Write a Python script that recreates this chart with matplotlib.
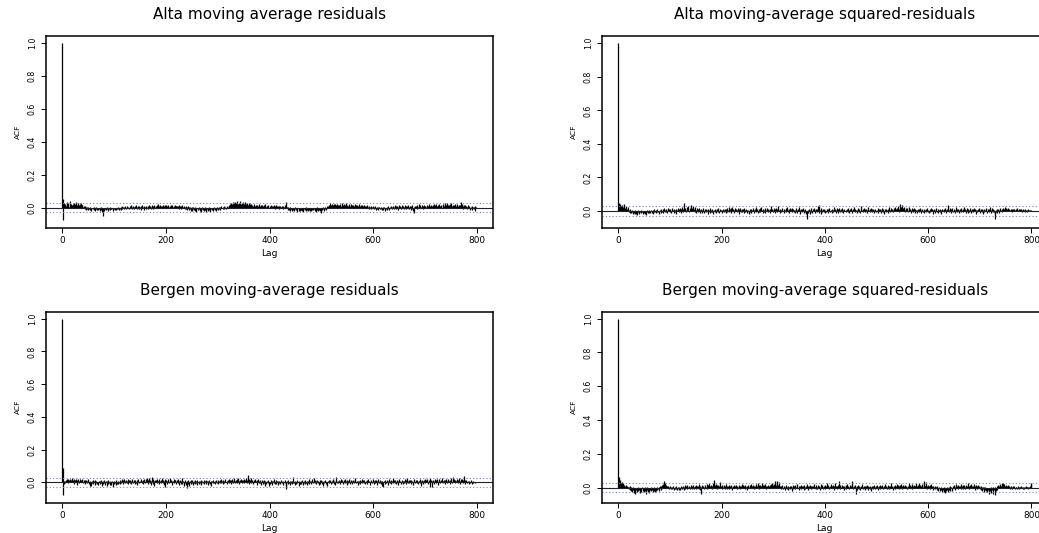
import numpy as np
import matplotlib
matplotlib.use("Agg")
import matplotlib.pyplot as plt

# ---------------- data (ACF values x 1000, lag 0..800) ----------------
titles = ["Alta moving average residuals",
          "Alta moving-average squared-residuals",
          "Bergen moving-average residuals",
          "Bergen moving-average squared-residuals"]

x_ticks = [0, 200, 400, 600, 800]
y_ticks = [0.0, 0.2, 0.4, 0.6, 0.8, 1.0]
y_tick_labels = ["0.0", "0.2", "0.4", "0.6", "0.8", "1.0"]
conf_limit = 0.028

alta_res = [
 1000, 55, -76, 18, 30, 8, 25, 12, -5, 35, 20, 10, 28, 5, 15, 40, 12, 22, -3, 18,
 25, 8, 30, 14, -2, 20, 10, 32, 6, 18, 12, 26, 4, 15, 22, 9, 28, 3, 14, 19,
 5, 12, -4, 10, -8, 2, -12, 6, -6, -15, 3, -10, -2, -14, 4, -8, -18, -5, 0, -11,
 -3, -16, 2, -9, -20, -6, 5, -12, -4, -17, -1, -10, -22, -7, 3, -14, -8, -25, -50, -12,
 -6, -18, 0, -10, -3, -15, -8, 2, -13, -20, -5, -9, 1, -16, -7, -11, -2, -14, -19, -4,
 -9, 0, -13, -6, -17, -3, -10, 4, -8, -15, -1, -11, -5, 2, -12, 8, -7, -2, 6, -9,
 3, -4, 10, -6, 1, 12, -3, 5, -8, 0, 9, -5, 14, -2, 6, -10, 3, 11, -7, 2,
 8, -4, 15, -1, 5, -9, 10, 0, -6, 12, 3, -12, 7, -2, 16, -5, 4, -14, 9, 1,
 -3, 11, -8, 6, 0, 13, -6, 2, 17, -4, 8, -10, 5, 14, -1, 10, -7, 3, 18, 6,
 12, -2, 15, 4, 9, 20, -3, 11, 6, 16, 1, 13, -4, 8, 19, 3, 10, -2, 14, 7,
 17, 2, 12, -3, 9, 15, 5, 11, -5, 14, 8, 1, 16, 6, -2, 12, 4, 18, -1, 10,
 7, 13, -4, 9, 3, 15, -6, 11, 2, 8, -8, 14, 0, 6, -3, 10, -10, 5, 12, -7,
 4, -12, 8, -2, -15, 3, -9, 6, -18, -4, 1, -22, -7, 5, -13, -1, -20, 2, -10, -25,
 -5, 0, -16, -8, 3, -19, -11, -2, -24, -6, 1, -14, -9, -21, -3, 4, -17, -12, -28, -7,
 -1, -20, -10, 2, -15, -5, -26, -8, 0, -13, -18, -4, -11, 3, -16, -9, -2, -22, -6, 1,
 -12, -3, 5, -8, 2, -14, -1, 7, -5, 0, -10, 4, -6, 9, -2, 3, -7, 1, 11, -4,
 6, 18, 3, 25, 10, 30, 8, 22, 15, 35, 12, 28, 5, 20, 32, 14, 26, 9, 38, 17,
 24, 11, 30, 16, 42, 20, 13, 27, 8, 33, 19, 25, 10, 36, 15, 22, 6, 29, 12, 18,
 26, 4, 20, 14, 9, 24, 2, 17, 11, 6, 21, 0, 13, 8, 18, 3, 15, -2, 10, 22,
 5, 12, -3, 16, 7, 1, 19, 9, -4, 14, 3, 11, 25, 6, -1, 13, 8, 2, 17, -5,
 10, 4, 15, 0, 8, -3, 12, 6, 18, 1, 9, -6, 14, 3, 7, -2, 11, 5, -8, 13,
 2, 9, -4, 6, 12, 0, 8, -7, 4, 16, -2, 10, 33, -5, 6, -12, 1, -9, -15, 3,
 -18, -6, -11, 0, -20, -8, -14, -3, -22, -10, 2, -16, -7, -24, -12, -4, -19, -1, -13, -21,
 -9, -15, 0, -18, -6, -25, -11, -3, -17, -8, -20, 1, -14, -10, -23, -5, -16, -2, -12, -19,
 -7, -22, -13, 0, -17, -9, -4, -20, -11, -26, -6, -15, 2, -18, -10, -3, -14, -21, -8, -30,
 -12, -5, -16, 3, -9, -19, -2, -11, 5, -14, -6, 8, -4, 12, 0, 18, 6, 27, 10, 15,
 22, 4, 17, 9, 25, -2, 13, 20, 6, 16, 11, 24, 3, 19, 8, 14, -3, 21, 10, 26,
 5, 17, 12, 7, 22, 0, 15, 9, 28, 4, 18, 11, -5, 14, 20, 6, 10, 24, 2, 16,
 8, 13, 19, 1, 11, 23, 6, 15, -4, 17, 9, 3, 12, 20, 7, -2, 14, 5, 10, 18,
 4, 11, -1, 15, 7, 2, 13, -3, 9, 16, 0, 6, -6, 10, 3, -9, 8, 1, -4, 12,
 -2, 5, -10, 7, -5, 0, -13, 4, -8, 2, -15, -3, 6, -11, -1, -7, 3, -16, -4, 1,
 -12, 5, -6, -18, 0, -9, 3, -14, -2, 8, -7, -12, 1, -5, 10, -3, -10, 4, -1, 12,
 -6, 2, 15, -4, 7, -9, 11, 0, -13, 6, 14, -2, 9, -7, 3, 17, -5, 1, 12, -11,
 5, -3, 16, 8, -8, 2, 13, -4, 19, 6, -10, 10, 0, -15, 7, -6, 14, -20, -30, 3,
 8, -5, 12, 2, -9, 16, 5, -2, 20, 9, -4, 14, 6, 0, 18, 3, 11, -7, 15, 8,
 1, 13, 6, -3, 17, 10, 2, 22, 7, -5, 12, 4, 19, -1, 9, 15, 3, 24, 8, 0,
 14, 6, 20, 11, -2, 16, 5, 12, 25, 9, 3, 18, 7, -4, 13, 21, 10, 2, 30, 15,
 6, 19, 11, 26, 4, 17, 9, 14, 1, 22, 8, 28, 13, 5, 18, 10, -3, 16, 24, 7,
 12, 3, 20, 9, -2, 15, 6, 18, 11, 33, 4, 14, 25, 8, -6, 16, 2, 10, 19, -4,
 12, 5, -8, 14, 3, -2, 10, -12, 6, 0, -15, 8, -5, 4, -10, 2, -18, 7, -3, 1,
 0]

alta_sq = [
 1000, 45, 38, 20, 42, 15, 30, 8, 35, 12, 25, 5, 40, 18, 10, 28, 3, 14, 22, -2,
 8, -6, 12, -10, 2, -14, 5, -8, -18, 0, -12, -4, -20, 3, -9, -15, -2, -22, -6, 4,
 -11, -17, 1, -8, -13, 6, -5, -19, -1, -10, -3, -16, 2, -7, -21, -4, 5, -12, -2, -9,
 3, -6, -14, 7, -3, -10, 1, -18, 4, -5, 9, -8, -1, -13, 6, -4, 11, -7, 2, -15,
 8, -2, -9, 13, 0, -6, 10, -11, 3, 15, -4, 7, -8, 12, 1, -14, 5, 16, -3, 9,
 -6, 11, 2, -12, 18, -1, 6, -9, 14, 4, -5, 10, -16, 8, 0, 20, -3, 13, -7, 5,
 17, -10, 9, 2, 22, -4, 12, 6, 45, -2, 15, 8, -6, 25, 11, 3, 30, -8, 18, 7,
 35, 12, -3, 20, 9, 28, 1, 14, -5, 22, 6, -11, 17, 3, 10, -7, 15, -2, 8, -13,
 4, 12, -9, 6, -1, 18, -14, 2, 9, -6, 14, -3, 7, -18, 11, 0, 5, -10, 16, -4,
 3, -8, 10, 1, -15, 6, -2, 13, -7, 4, -12, 9, 0, 15, -5, 2, -9, 12, -3, 7,
 -14, 5, 11, -1, 8, -7, 14, 3, -11, 9, -4, 18, 0, 6, 22, -6, 12, 2, -9, 16,
 4, 25, -3, 10, 7, -12, 19, 1, 14, -6, 8, 20, -2, 11, -15, 5, 17, -8, 3, 13,
 -4, 9, 0, -10, 15, 6, -7, 2, 12, -13, 4, -2, 8, -16, 1, 10, -5, 14, -9, 3,
 18, -3, 7, -11, 11, 2, 25, -6, 5, 13, -14, 0, 9, -4, 16, -8, 3, 22, -1, 6,
 -10, 12, 4, -5, 15, -12, 8, 1, 19, -7, 10, 3, -3, 14, -9, 6, 28, -2, 11, 5,
 -8, 16, 0, 9, -13, 4, 20, -5, 12, 2, 30, -1, 7, -10, 14, 3, -6, 18, 8, -3,
 11, -14, 6, 1, 15, -8, 9, 24, -4, 3, 12, -11, 17, 5, -2, 10, -7, 20, 2, 13,
 -5, 8, -12, 4, 16, 0, 7, -9, 11, 22, -3, 6, -15, 9, 1, 14, -6, 3, 18, -10,
 5, -4, 12, -20, 2, -50, -8, 6, -14, 10, -2, -18, 4, 15, -7, 1, -12, 9, -3, 20,
 6, -9, 14, 0, 11, -5, 28, 3, 38, -11, 7, -2, 16, -16, 5, -8, 12, 1, -4, 9,
 -13, 6, 2, -7, 14, -1, 10, -10, 4, 18, -5, 8, 0, -12, 13, 3, -6, 22, 7, -3,
 11, -9, 5, 16, -2, 9, -14, 2, 19, 6, -7, 12, 0, -4, 15, 8, -11, 4, 10, -1,
 7, -8, 13, 2, -5, 20, 4, -12, 9, 1, 16, -3, 6, -9, 11, 0, 24, 5, -6, 14,
 -2, 8, -13, 3, 18, 7, -4, 12, 1, -10, 30, 6, -1, 10, -7, 15, 2, 9, -5, 4,
 13, -11, 7, 0, 21, 5, -3, 11, -8, 17, 2, -6, 9, 14, -2, 6, -14, 3, 12, -5,
 8, 1, 16, -9, 4, 10, -3, 13, -12, 6, 19, 0, -7, 9, 2, -16, 11, 5, -4, 14,
 -1, 7, -10, 12, 3, 22, -5, 8, 15, -2, 10, 4, -8, 18, 6, 1, 25, -3, 12, 9,
 20, 5, 30, 11, -4, 40, 14, 7, 22, 3, 35, 10, 17, 2, 26, 8, -5, 19, 12, 4,
 15, -7, 9, 23, 1, 13, 6, -11, 18, 3, 10, -4, 16, 7, -9, 12, 0, 5, -14, 8,
 2, 14, -6, 9, -2, 17, 4, -10, 11, 1, -5, 13, -13, 6, 0, 10, -8, 3, 15, -4,
 7, -12, 2, 11, -7, 5, 16, -3, 9, -15, 4, 0, 12, -9, 6, -2, 18, 1, -6, 10,
 -11, 3, 14, -4, 8, -16, 2, 11, -1, 6, -8, 13, 0, 20, 5, -10, 9, 3, 35, 12,
 -5, 7, 15, -2, 10, -9, 4, 18, -6, 1, 12, -13, 6, 22, 0, -7, 9, 14, -3, 5,
 -12, 11, 2, 16, -5, 8, -1, 13, -8, 4, 25, -3, 10, -14, 6, 17, 1, -9, 12, 3,
 -4, 20, 7, -11, 14, 0, 9, -6, 5, 18, -2, 11, -15, 4, 8, -7, 13, 2, -3, 16,
 -10, 6, 1, 12, -5, 9, -16, 3, 14, -8, 7, -2, 19, 0, -12, 10, 4, -6, 13, 22,
 -3, 8, -11, 15, 2, -7, 11, -4, 5, -20, -45, -8, 3, -14, 9, -2, 12, -9, 6, 1,
 16, 4, 10, -5, 20, 7, 13, 2, 24, 9, -3, 15, 6, 11, -1, 18, 5, 12, 0, 8,
 14, 3, 9, -4, 11, 6, 1, 13, 7, -2, 10, 4, 15, 0, 8, 12, -3, 6, 9, 2,
 11, -5, 7, 3, 13, -1, 6, 10, -4, 8, 2, 5, -6, 9, 1, 4, -2, 7, 0, 3,
 -1]

bergen_res = [
 1000, 88, -75, 5, -12, 10, -5, 15, 2, 18, 8, -4, 20, 12, 6, 22, 3, 16, 9, 24,
 5, 14, -8, 19, 11, 2, 17, 7, -15, 13, 21, 4, 10, -6, 18, 8, 15, 1, 20, 12,
 -3, 16, 6, 11, -10, 14, 3, 9, -5, 18, 7, -12, 4, 10, -20, 2, -25, 8, -4, 13,
 -8, 6, 1, -15, 11, -3, 9, -10, 4, -18, 7, 0, -13, 10, -6, 14, -2, -21, 5, -9,
 12, -4, 3, -16, 8, -1, -22, 6, -11, 11, -7, 2, -19, 9, -3, -14, 5, -26, 0, 7,
 -10, 3, -5, 12, -17, 1, -8, 10, -13, 4, -2, 15, -9, 6, -4, 18, 0, -11, 12, 3,
 20, -6, 9, 14, -3, 7, 17, -8, 11, 2, -5, 16, 6, -12, 10, 19, 1, -4, 13, 8,
 -9, 15, 4, -2, 12, -14, 7, 18, 0, -7, 10, 3, 21, -5, 9, 14, -11, 6, 17, 2,
 -3, 19, 8, 24, 5, -8, 16, 11, 26, -2, 13, -16, 9, 30, 4, -10, 20, 7, -25, 15,
 3, 12, 22, -4, 10, 6, -13, 17, 1, 9, -7, 14, 25, 5, -2, 11, -18, 8, 19, -26,
 4, 15, -9, 10, 2, 18, -5, 7, 23, -1, 12, 6, -14, 9, 3, 20, -6, 11, 16, 0,
 -10, 13, 5, 21, -3, 8, -17, 14, 2, -8, 10, 25, -12, 6, 0, -20, 12, -5, 4, -15,
 -35, 7, -9, 15, -2, -22, 9, 3, -13, 11, -6, 16, 1, -18, 8, -4, 12, -11, 5, -7,
 14, -16, 2, 10, -9, 6, -3, 13, -14, 4, 9, -6, 0, 11, -12, 7, -1, 15, -8, 3,
 10, -17, 5, -4, 12, -10, 1, 8, -25, 6, -2, 13, -7, 3, 9, -13, 0, 11, -5, 4,
 16, -9, 7, 2, -3, 12, 20, -6, 9, 1, -11, 14, 5, -4, 10, 18, -1, 6, -8, 13,
 3, 21, -5, 11, 7, 15, -10, 4, 19, 9, -2, 14, 23, 6, -7, 12, 2, 17, -4, 10,
 25, 5, -9, 13, 8, 20, -3, 16, 1, 11, 22, -6, 9, 15, 3, 28, -2, 12, 7, 42,
 18, -8, 14, 5, 24, -4, 10, 16, 2, -11, 13, 8, 20, -1, 6, -14, 11, 4, 17, -6,
 9, -3, 13, 1, -16, 7, 12, -9, 5, 15, -2, -20, 8, 3, -12, 10, 0, -7, 14, -24,
 4, -10, 11, -2, 6, -15, 9, 1, -5, 18, -8, 3, 12, -13, 7, -1, -19, 5, 10, -4,
 2, -11, 8, 14, -6, 0, 9, -16, 4, 11, -3, -22, -40, 6, 1, -9, 13, -5, 3, -14,
 8, -2, 10, -12, 5, -7, 35, -4, 0, -17, 7, 2, -10, 12, -6, 4, -20, 9, -1, -13,
 6, -8, 3, 11, -15, 1, -4, 8, -11, 14, 2, -6, 9, -18, 5, -2, 22, -9, 7, 0,
 -13, 10, 4, 18, -7, 2, 25, -3, 12, 6, -10, 15, 0, -5, 9, -16, 3, 11, -8, 13,
 1, -12, 7, 4, -20, 10, -2, 6, 14, -9, 3, -25, 8, 0, 12, -6, 5, 16, -11, 2,
 9, -4, 13, 20, -8, 6, 1, -15, 11, 34, 3, -7, 10, -2, 15, 5, -12, 8, 18, -1,
 12, 4, -9, 14, 7, 22, -5, 10, 2, -14, 16, 6, -3, 11, 20, 0, -8, 13, 5, 9,
 -11, 15, 3, 7, -6, 12, 25, -2, 9, 1, -16, 10, 5, -4, 14, -10, 8, 2, 19, -7,
 6, 11, -3, 16, 0, -13, 9, 4, 12, -8, 7, 20, -1, 10, -18, 5, 13, 2, -6, 22,
 3, -10, 8, 14, -4, 11, 0, -15, 9, 6, 17, -7, 2, 12, -3, 5, -12, 10, -20, -30,
 4, 8, -9, 15, 1, -5, 12, 6, -14, 10, 3, 19, -2, 7, -11, 13, 0, 9, 24, -6,
 5, 11, -3, 16, -10, 2, 8, 12, -17, 6, 20, -1, 9, 4, -8, 14, 1, -13, 10, 5,
 -4, 18, 7, -11, 13, 2, 25, -6, 9, 15, -2, 4, 11, -9, 16, 6, 0, -14, 10, 21,
 3, -7, 12, 8, -3, 14, 1, -12, 9, 5, 17, -5, 10, -20, 2, 13, 7, -8, 15, 4,
 22, -2, 11, 6, 18, -10, 3, 14, 8, 25, -26, 5, 12, -28, 9, 1, 16, 6, -9, 20,
 4, 13, -4, 10, 21, 2, -15, 8, 17, 6, -7, 12, 0, 24, 9, -3, 15, 5, -12, 11,
 19, 3, 8, -6, 14, 22, 1, 10, -9, 16, 7, 26, 4, -2, 12, 30, 9, 18, -5, 13,
 6, 21, 11, -4, 15, 3, 24, 8, -8, 17, 10, 2, 19, -3, 13, 36, 5, 11, -10, 7,
 14, 0, -6, 9, 3, -12, 8, -2, 5, 12, -8, 1, 6, -4, 3, -1, 2, -5, 4, 0,
 1]

bergen_sq = [
 1000, 65, 52, 40, 48, 30, 22, 35, 15, 25, 12, 8, 18, 5, 10, 14, 3, 9, 6, 2,
 4, -5, 7, -12, 1, -18, -6, -25, 3, -15, -30, -8, -20, -38, -2, -14, -28, -10, 2, -22,
 -16, -5, -32, 0, -12, -24, 4, -18, -8, -27, -14, 1, -20, -35, -6, -11, 3, -25, -17, -9,
 -30, 0, -13, -22, 5, -16, -8, -26, -3, -19, 2, -28, -12, -6, -21, 4, -15, -9, 6, -18,
 -4, 8, -11, 12, -2, 15, 5, 20, 10, 38, 25, 14, 8, 18, 3, 11, -4, 7, 1, -6,
 9, -3, 4, -10, 2, -7, 12, -1, -13, 5, -5, 8, -9, 0, -15, 3, -2, -11, 6, -6,
 -14, 1, 7, -8, 4, -3, 10, -12, 2, 14, -5, 8, 0, -9, 16, 3, -4, 11, -7, 6,
 13, -2, 9, -10, 5, 18, 1, -6, 12, 4, -8, 15, 7, -3, 10, 0, 20, -5, 8, -12,
 3, -40, 6, 14, -4, 11, 2, -9, 17, 5, 0, 22, -7, 9, 13, 1, 25, -3, 8, 16,
 4, 12, -5, 30, 10, 48, 6, 15, -2, 20, 7, -8, 14, 3, 18, -4, 9, 35, 1, 11,
 -6, 13, 5, -3, 16, 8, -10, 10, 2, 19, -5, 7, 12, 0, -8, 15, 4, 9, -2, 14,
 6, -11, 11, 3, 17, -4, 8, 1, 13, -7, 10, 5, -1, 16, 2, 9, -9, 12, 4, 20,
 -3, 7, 14, 0, 10, -6, 18, 5, 2, 11, -12, 8, 15, 3, -2, 13, 6, 22, -4, 9,
 1, 16, 7, -8, 12, 4, 19, -1, 10, 6, 25, 3, -5, 14, 8, 18, 0, 11, 30, 5,
 13, -3, 9, 16, 2, 21, 7, -6, 12, 4, 17, 10, -2, 15, 6, 24, 1, 11, 28, 8,
 14, 3, 20, 38, 9, 16, 5, 42, 12, 0, 18, 7, 33, 2, 11, -6, 8, 15, 4, -9,
 10, -3, 6, -12, 2, 13, -7, 5, -15, 9, 1, -4, 12, -10, 3, 7, -18, 6, 14, -5,
 2, 10, -8, 16, 4, -2, 11, 22, 0, 7, -13, 9, 3, 18, -6, 5, 12, -1, 8, -11,
 14, 2, -5, 10, 6, 19, -3, 8, -14, 4, 11, 0, 15, -8, 7, 2, 12, -4, 9, 24,
 1, 6, -10, 13, 3, -6, 16, 8, 0, 11, -12, 5, 20, -2, 9, 14, -7, 4, 12, 1,
 -5, 18, 7, 3, 26, -4, 10, 15, 2, -9, 12, 6, 21, -1, 8, 4, 14, -11, 9, 30,
 5, -3, 11, 7, -8, 16, 2, 10, 40, -6, 13, 4, -2, 9, 18, 0, 7, -14, 11, 3,
 15, -5, 8, 22, 1, 12, -9, 6, 17, 3, 10, -4, 14, 38, 2, -7, 9, 5, 13, -3,
 -35, 6, -12, 11, 1, 16, -6, 8, 4, -15, 10, 2, 19, -8, 5, 12, -2, 7, -11, 9,
 3, 14, -4, 10, -16, 6, 1, 12, -7, 4, -19, 8, 2, 11, -5, 6, 15, -9, 3, 10,
 -2, 13, 5, -12, 8, 1, 18, -6, 9, 3, -3, 14, 6, -10, 11, 0, 7, 22, -4, 10,
 4, -8, 15, 2, 9, -5, 12, 6, 26, -1, 8, 3, -13, 11, 5, 17, -7, 10, 1, 19,
 6, -3, 13, 8, -10, 15, 2, 24, 7, -5, 11, 4, 18, -2, 9, 14, 0, 6, 12, -8,
 3, 10, 28, 5, -4, 13, 8, 1, 20, -6, 11, 4, 16, -1, 9, 7, 25, 2, 12, -3,
 14, 6, 30, 9, 18, -2, 11, 5, 22, 13, 3, 15, 42, 8, 10, 35, 4, 12, -5, 7,
 16, 2, 9, -8, 13, 5, 20, 0, 8, -11, 12, 3, -4, 10, -9, 6, 1, -14, 7, -6,
 -18, 3, -10, -22, 5, -13, -28, 0, -16, -8, -25, 2, -12, -30, -6, -20, 4, -15, -9, -24,
 1, -11, 8, -17, -3, 6, -19, -7, 11, -2, 14, -12, 5, 20, -4, 9, 2, -9, 16, 7,
 -1, 12, 4, 24, -6, 10, 3, 15, -10, 8, 18, 1, -5, 13, 7, -2, 11, 28, 4, 9,
 -8, 14, 6, 19, 0, 12, -4, 10, 22, 3, -12, 8, 15, 1, -6, 11, 5, 17, -3, 9,
 -10, 4, -15, 7, 1, -20, 5, -8, -25, 2, -12, 6, -18, -3, -28, 0, -14, -35, -6, -22,
 -11, 2, -30, -7, -16, 4, -40, -9, -13, -45, 1, -20, -5, 8, -12, 6, 14, -3, 10, 18,
 22, 12, 25, 8, 16, 28, 5, 20, 11, 2, 15, 7, -4, 10, 3, 13, -2, 8, 5, -6,
 9, 1, 6, -8, 4, 11, -3, 7, 0, -10, 5, 2, -5, 8, -1, 3, -7, 6, 1, -4,
 7, -2, 4, -9, 2, 6, -5, 3, -1, 8, -3, 1, 5, -6, 2, 0, 4, -2, 10, 25,
 22]

series = [alta_res, alta_sq, bergen_res, bergen_sq]

# ---------------- layout (pixel boxes of the plot regions) ----------------
W, H = 1039, 533
fig = plt.figure(figsize=(W / 100, H / 100), dpi=100)
plt.rcParams['font.family'] = ['DejaVu Sans']

boxes = [(45.7, 36.0, 493.3, 227.7), (601.7, 36.0, 1048.0, 227.7),
         (45.7, 311.7, 493.3, 502.7), (601.7, 311.7, 1048.0, 502.7)]
ylims = [(-0.122, 1.044), (-0.0996, 1.0435), (-0.125, 1.043), (-0.089, 1.041)]
title_y = [15.0, 15.0, 290.0, 290.0]

for k in range(4):
    x0, y0, x1, y1 = boxes[k]
    ax = fig.add_axes([x0 / W, 1 - y1 / H, (x1 - x0) / W, (y1 - y0) / H])
    vals = np.asarray(series[k], dtype=float) / 1000.0
    lags = np.arange(len(vals))
    ax.vlines(lags, 0, vals, color='black', linewidth=0.9)
    ax.axhline(0, color='#222222', linewidth=0.8)
    for c in (conf_limit, -conf_limit):
        ax.axhline(c, color='#6a86d4', linewidth=0.8, linestyle=(0, (1, 2)))
    ax.set_xlim(-32, 832)
    ax.set_ylim(*ylims[k])
    ax.set_xticks(x_ticks)
    ax.set_xticklabels([str(t) for t in x_ticks], fontsize=6.4)
    ax.set_yticks(y_ticks)
    ax.set_yticklabels(y_tick_labels, fontsize=5.6, rotation=90, va='center')
    ax.tick_params(axis='both', direction='out', length=3.3, width=0.7, color='black')
    ax.tick_params(axis='x', pad=2.8)
    ax.tick_params(axis='y', pad=3.2)
    for sp in ax.spines.values():
        sp.set_linewidth(1.1)
        sp.set_color('black')
    ax.set_xlabel("Lag", fontsize=6.6, labelpad=2.5)
    ax.set_ylabel("ACF", fontsize=5.4, labelpad=4.5)
    fig.text(((x0 + x1) / 2) / W, 1 - title_y[k] / H, titles[k],
             fontsize=11, ha='center', va='center')

fig.savefig("out.png", dpi=100)
